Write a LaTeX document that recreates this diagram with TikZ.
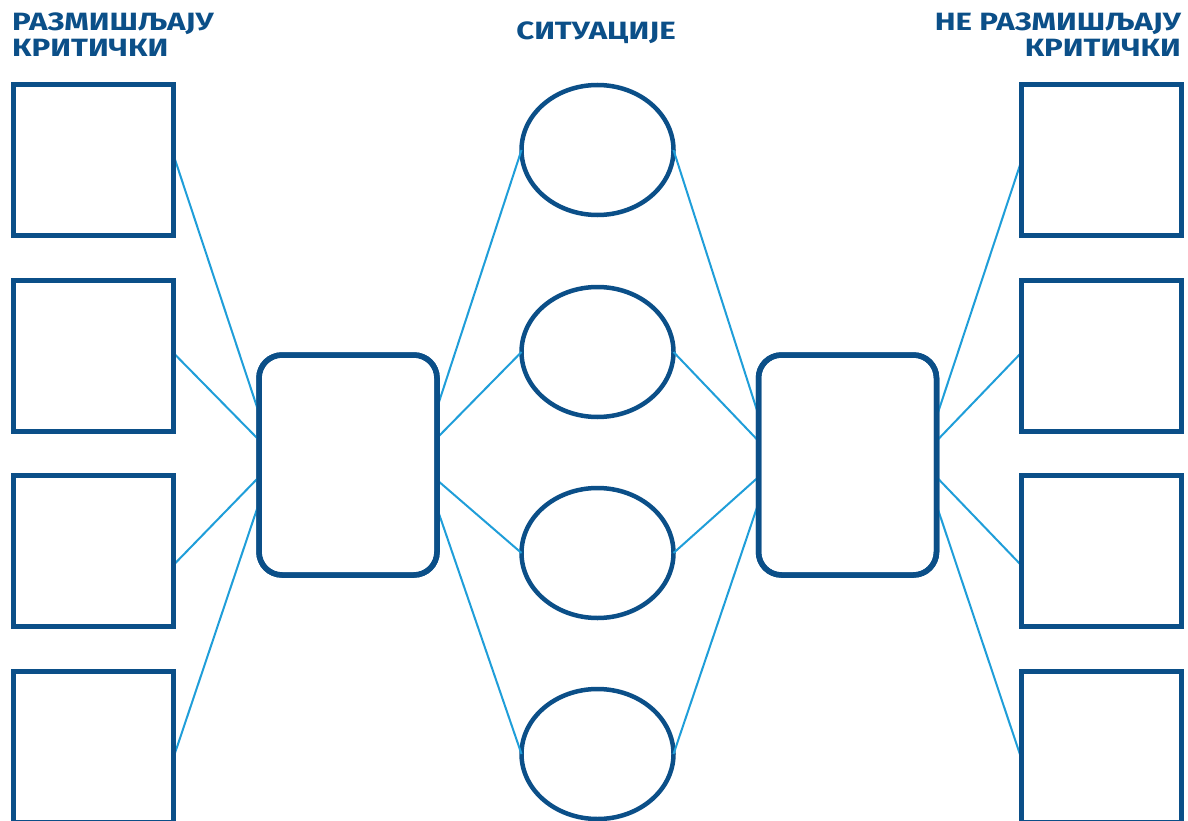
\documentclass[tikz,border=0pt]{standalone}
\usepackage{fontspec}
\setmainfont{Fira Sans}
\usetikzlibrary{calc,shapes.geometric}
\newcommand\ttlwide[1]{\scalebox{1.25}[1]{#1}}
\definecolor{dblue}{HTML}{0B4F88}
\definecolor{lblue}{HTML}{1F9ED9}
\tikzset{
  sqbox/.style={draw=dblue,line width=5pt,rectangle,minimum width=160pt,minimum height=151pt,inner sep=0pt,outer sep=0pt},
  hubbox/.style={draw=dblue,line width=5.5pt,rectangle,rounded corners=23pt,minimum width=178pt,minimum height=220pt,inner sep=0pt,outer sep=0pt},
  sitell/.style={draw=dblue,line width=4.5pt,ellipse,minimum width=152pt,minimum height=130pt,inner sep=0pt,outer sep=0pt},
  conn/.style={draw=lblue,line width=2pt},
  ttl/.style={text=dblue,font=\fontsize{25}{26.5}\selectfont\bfseries,inner sep=0pt}
}
\begin{document}
\begin{tikzpicture}[x=1pt,y=-1pt]
\useasboundingbox (0,0) rectangle (1188,821);
\clip (0,0) rectangle (1188,821);
\fill[white] (0,0) rectangle (1188,821);
% titles
\node[ttl,anchor=base west] (lt1) at (12,30.5) {\ttlwide{РАЗМИШЉАЈУ}};
\node[ttl,anchor=base west] (lt2) at (12,57) {\ttlwide{КРИТИЧКИ}};
\node[ttl,anchor=base] (ct) at (596,40) {\ttlwide{СИТУАЦИЈЕ}};
\node[ttl,anchor=base east] (rt1) at (1181,30.5) {\ttlwide{НЕ РАЗМИШЉАЈУ}};
\node[ttl,anchor=base east] (rt2) at (1181,57) {\ttlwide{КРИТИЧКИ}};
% left boxes
\node[sqbox] (L1) at (93.5,160) {};
\node[sqbox] (L2) at (93.5,355.5) {};
\node[sqbox] (L3) at (93.5,551) {};
\node[sqbox] (L4) at (93.5,746.5) {};
% right boxes
\node[sqbox] (R1) at (1101,160) {};
\node[sqbox] (R2) at (1101,355.5) {};
\node[sqbox] (R3) at (1101,551) {};
\node[sqbox] (R4) at (1101,746.5) {};
% hubs
\node[hubbox] (HL) at (348,465) {};
\node[hubbox] (HR) at (847.5,465) {};
% ellipses
\node[sitell] (E1) at (597.5,150) {};
\node[sitell] (E2) at (597.5,352) {};
\node[sitell] (E3) at (597.5,553) {};
\node[sitell] (E4) at (597.5,754) {};
% connectors left boxes -> left hub
\draw[conn] ($(L1.east)+(0,-5)$) -- ($(HL.west)+(0,-52)$);
\draw[conn] ($(L2.east)+(0,-2.5)$) -- ($(HL.west)+(0,-25)$);
\draw[conn] ($(L3.east)+(0,14)$) -- ($(HL.west)+(0,12)$);
\draw[conn] ($(L4.east)+(0,11)$) -- ($(HL.west)+(0,38)$);
% left hub -> ellipses
\draw[conn] ($(HL.east)+(0,-57)$) -- (E1.west);
\draw[conn] ($(HL.east)+(0,-27)$) -- (E2.west);
\draw[conn] ($(HL.east)+(0,15)$) -- (E3.west);
\draw[conn] ($(HL.east)+(0,43)$) -- (E4.west);
% ellipses -> right hub
\draw[conn] (E1.east) -- ($(HR.west)+(0,-50)$);
\draw[conn] (E2.east) -- ($(HR.west)+(0,-24)$);
\draw[conn] (E3.east) -- ($(HR.west)+(0,12)$);
\draw[conn] (E4.east) -- ($(HR.west)+(0,38)$);
% right hub -> right boxes
\draw[conn] ($(HR.east)+(0,-48)$) -- ($(R1.west)+(0,2)$);
\draw[conn] ($(HR.east)+(0,-24)$) -- ($(R2.west)+(0,-2.5)$);
\draw[conn] ($(HR.east)+(0,12)$) -- ($(R3.west)+(0,14)$);
\draw[conn] ($(HR.east)+(0,40)$) -- ($(R4.west)+(0,11)$);
% redraw outlines on top of connector ends
\foreach \n in {L1,L2,L3,L4,R1,R2,R3,R4}{\draw[draw=dblue,line width=5pt] (\n.north west) rectangle (\n.south east);}
\foreach \n in {HL,HR}{\draw[draw=dblue,line width=5.5pt,rounded corners=23pt] (\n.north west) rectangle (\n.south east);}
\end{tikzpicture}
\end{document}
